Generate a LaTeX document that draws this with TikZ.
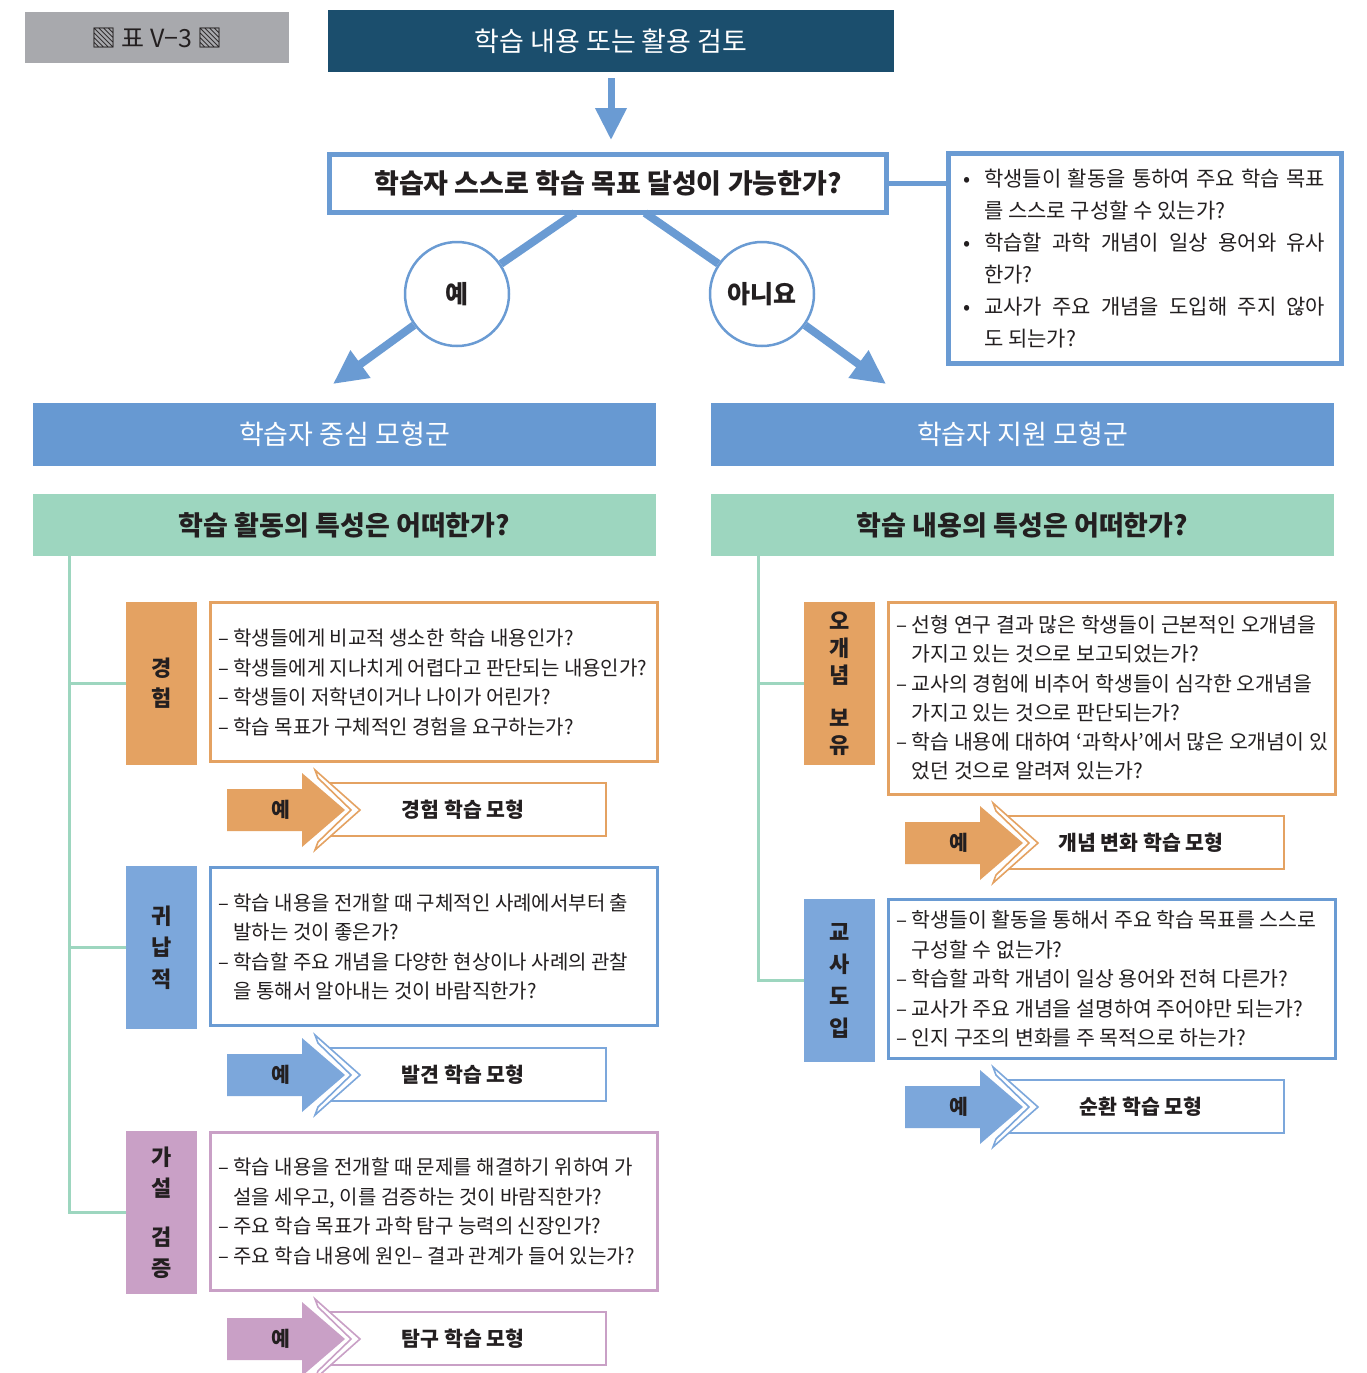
\documentclass[tikz,border=0pt]{standalone}
\usepackage{fontspec}
\setmainfont{Noto Sans CJK KR}
\usetikzlibrary{arrows.meta,calc}
\definecolor{navy}{HTML}{1B4E6D}
\definecolor{lblue}{HTML}{6A9BD3}
\definecolor{hblue}{HTML}{6799D2}
\definecolor{mint}{HTML}{9DD6BF}
\definecolor{orng}{HTML}{E4A262}
\definecolor{cblue}{HTML}{7CA7DB}
\definecolor{cpink}{HTML}{C9A0C6}
\definecolor{grayl}{HTML}{A8A9AD}
\definecolor{ink}{HTML}{231F20}
\newcommand\myfs[2]{\fontsize{#1}{#2}\selectfont}
\newcommand\dl{–\ }
\newcommand\ind{\hphantom{–\ }}
\newcommand\yesrow[5]{%
 \draw[draw=#4, line width=2.5] ({#2+100},{#3-27}) -- ({#2+379},{#3-27}) -- ({#2+379},{#3+26}) -- ({#2+100},{#3+26});
 \filldraw[draw=#4, fill=white, line width=1.6] ({#2+88},{#3-40}) -- ({#2+133},#3) -- ({#2+88},{#3+40}) -- ({#2+91},{#3+32}) -- ({#2+124},#3) -- ({#2+91},{#3-32}) -- cycle;
 \fill[#4] (#2,{#3-21}) -- ({#2+75},{#3-21}) -- ({#2+75},{#3-37}) -- ({#2+118},#3) -- ({#2+75},{#3+37}) -- ({#2+75},{#3+21}) -- (#2,{#3+21}) -- cycle;
 \node[rowtxt] (#1y) at ({#2+54},#3) {예};
 \node[rowtxt] (#1m) at ({#2+236},#3) {#5};
}
\tikzset{
 rowtxt/.style={font=\bfseries\myfs{20.5}{24}, text=ink, inner sep=0},
 conn/.style={draw=lblue, line width=8},
 tree/.style={draw=mint, line width=3},
 hdr/.style={fill=hblue, minimum width=623, minimum height=63, text=white, font=\myfs{27}{30}, inner sep=0},
 ghdr/.style={fill=mint, minimum width=623, minimum height=62, text=ink, font=\bfseries\myfs{27}{30}, inner sep=0},
 cat/.style={fill=#1, minimum width=71, minimum height=163, text=ink, align=center, inner sep=0},
 dbox/.style={draw=#1, line width=3, minimum width=447, fill=white, inner sep=0},
 dtxt/.style={anchor=west, inner sep=0, align=left, text=ink, font=\myfs{20}{29.5}},
 yn/.style={circle, draw=lblue, line width=2.5, fill=white, minimum size=104, inner sep=0, text=ink, font=\bfseries\myfs{25}{28}},
}
\begin{document}
\begin{tikzpicture}[x=1pt,y=-1pt]
\useasboundingbox[fill=white] (0,0) rectangle (1366,1373);
% label
\node[fill=grayl, minimum width=264, minimum height=51, font=\myfs{25}{28}, text=ink, inner sep=0] (lab) at (157,37.5) {▧ 표 V−3 ▧};
% top
\node[fill=navy, minimum width=566, minimum height=62, text=white, font=\myfs{27}{30}, inner sep=0] (top) at (611,41) {학습 내용 또는 활용 검토};
\node[draw=lblue, line width=5, fill=white, minimum width=557, minimum height=58, inner sep=0, text=ink, font=\bfseries\myfs{27}{30}] (q) at (608,183.5) {학습자 스스로 학습 목표 달성이 가능한가?};
\draw[draw=lblue, line width=7, -{Triangle[length=32pt,width=30pt]}, shorten <=6pt, shorten >=12pt] (top.south) -- (top.south |- q.north);
% bullet box
\node[draw=lblue, line width=5, minimum width=393, minimum height=210, fill=white, inner sep=0] (bb) at (1145,258.5) {};
\node[anchor=west, inner sep=0, align=left, font=\myfs{21}{32}, text=ink] (bbt) at (963,258.5) {%
\makebox[21pt][l]{•}\makebox[341pt][s]{학생들이 활동을 통하여 주요 학습 목표}\\
\hspace*{21pt}를 스스로 구성할 수 있는가?\\
\makebox[21pt][l]{•}\makebox[341pt][s]{학습할 과학 개념이 일상 용어와 유사}\\
\hspace*{21pt}한가?\\
\makebox[21pt][l]{•}\makebox[341pt][s]{교사가 주요 개념을 도입해 주지 않아}\\
\hspace*{21pt}도 되는가?};
\draw[draw=lblue, line width=5] (q.east) -- (q.east -| bb.west);
% yes / no
\node[yn] (yes) at (457,294) {예};
\node[yn] (no) at (762,294) {아니요};
\coordinate (qL) at (575,213);
\coordinate (qR) at (645,213);
\coordinate (tipL) at (333,384);
\coordinate (tipR) at (886,384);
\draw[conn] (qL) -- (yes);
\draw[conn] (qR) -- (no);
\draw[conn, -{Triangle[length=34pt,width=32pt]}] (yes) -- (tipL);
\draw[conn, -{Triangle[length=34pt,width=32pt]}] (no) -- (tipR);
% headers
\node[hdr] (hL) at (344.5,434.5) {학습자 중심 모형군};
\node[hdr] (hR) at (1022.5,434.5) {학습자 지원 모형군};
\node[ghdr] (gL) at (344.5,525) {학습 활동의 특성은 어떠한가?};
\node[ghdr] (gR) at (1022.5,525) {학습 내용의 특성은 어떠한가?};
% left categories
\node[cat=orng, font=\bfseries\myfs{22}{30}] (c1) at (161.5,683.5) {경\\험};
\node[cat=cblue, font=\bfseries\myfs{22}{31.5}] (c2) at (161.5,947.5) {귀\\납\\적};
\node[cat=cpink, font=\bfseries\myfs{22}{31}] (c3) at (161.5,1212.5) {가\\설\\[18pt]검\\증};
\coordinate (tL) at (69,556);
\draw[tree] (tL) |- (c3.west);
\draw[tree] (c1.west) -- (c1.west -| tL);
\draw[tree] (c2.west) -- (c2.west -| tL);
% left detail boxes
\node[dbox=orng, minimum height=159] (d1) at (434,682) {};
\node[dtxt] (t1) at (218,682.5) {\dl 학생들에게 비교적 생소한 학습 내용인가?\\
\dl 학생들에게 지나치게 어렵다고 판단되는 내용인가?\\
\dl 학생들이 저학년이거나 나이가 어린가?\\
\dl 학습 목표가 구체적인 경험을 요구하는가?};
\node[dbox=lblue, minimum height=158] (d2) at (434,946.5) {};
\node[dtxt] (t2) at (218,947) {\dl 학습 내용을 전개할 때 구체적인 사례에서부터 출\\
\ind 발하는 것이 좋은가?\\
\dl 학습할 주요 개념을 다양한 현상이나 사례의 관찰\\
\ind 을 통해서 알아내는 것이 바람직한가?};
\node[dbox=cpink, minimum height=158] (d3) at (434,1211.5) {};
\node[dtxt] (t3) at (218,1211.5) {\dl 학습 내용을 전개할 때 문제를 해결하기 위하여 가\\
\ind 설을 세우고, 이를 검증하는 것이 바람직한가?\\
\dl 주요 학습 목표가 과학 탐구 능력의 신장인가?\\
\dl 주요 학습 내용에 원인– 결과 관계가 들어 있는가?};
\yesrow{r1}{227}{810}{orng}{경험 학습 모형}
\yesrow{r2}{227}{1075}{cblue}{발견 학습 모형}
\yesrow{r3}{227}{1339}{cpink}{탐구 학습 모형}
% right categories
\node[cat=orng, font=\bfseries\myfs{22}{27}] (c4) at (839.5,683.5) {오\\개\\념\\[16pt]보\\유};
\node[cat=cblue, font=\bfseries\myfs{22}{32}] (c5) at (839.5,980.5) {교\\사\\도\\입};
\coordinate (tR) at (758,556);
\draw[tree] (tR) |- (c5.west);
\draw[tree] (c4.west) -- (c4.west -| tR);
\node[dbox=orng, minimum height=192] (d4) at (1112,698.5) {};
\node[dtxt, font=\myfs{20.5}{29.2}] (t4) at (896,698) {\dl 선형 연구 결과 많은 학생들이 근본적인 오개념을\\
\ind 가지고 있는 것으로 보고되었는가?\\
\dl 교사의 경험에 비추어 학생들이 심각한 오개념을\\
\ind 가지고 있는 것으로 판단되는가?\\
\dl 학습 내용에 대하여 ‘과학사’에서 많은 오개념이 있\\
\ind 었던 것으로 알려져 있는가?};
\node[dbox=lblue, minimum height=159] (d5) at (1112,979) {};
\node[dtxt, font=\myfs{20.5}{29.5}] (t5) at (896,979) {\dl 학생들이 활동을 통해서 주요 학습 목표를 스스로\\
\ind 구성할 수 없는가?\\
\dl 학습할 과학 개념이 일상 용어와 전혀 다른가?\\
\dl 교사가 주요 개념을 설명하여 주어야만 되는가?\\
\dl 인지 구조의 변화를 주 목적으로 하는가?};
\yesrow{r4}{905}{843}{orng}{개념 변화 학습 모형}
\yesrow{r5}{905}{1107}{cblue}{순환 학습 모형}
\end{tikzpicture}
\end{document}
